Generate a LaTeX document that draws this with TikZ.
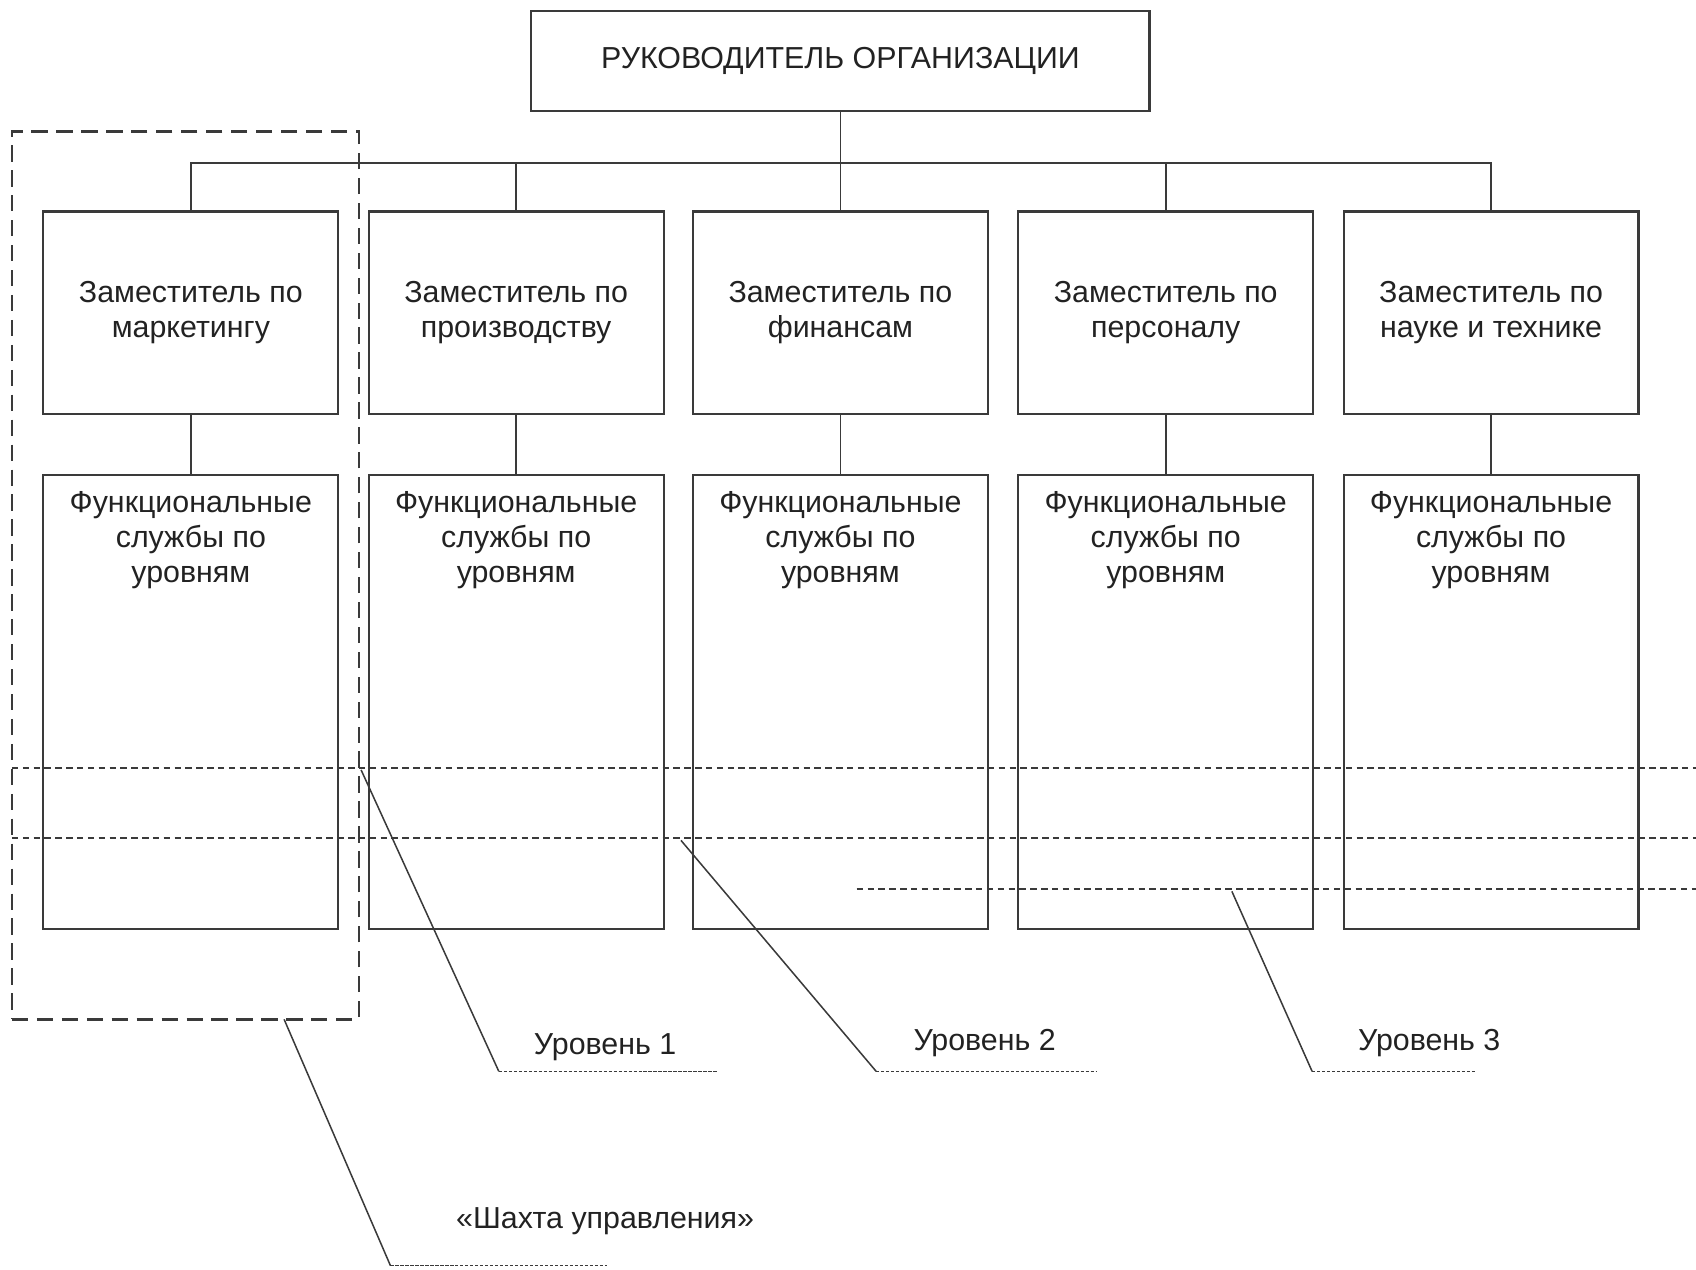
\documentclass[tikz,border=0pt]{standalone}
\usepackage{fontspec}
\setmainfont{Liberation Sans}
\definecolor{ln}{HTML}{3A3A3A}
\definecolor{txt}{HTML}{222222}
\begin{document}
\begin{tikzpicture}[x=0.5pt,y=-0.5pt,
  every node/.style={font=\fontsize{14}{16}\selectfont, text=txt},
  box/.style={draw=ln, line width=1pt, minimum width=136pt, inner sep=0},
  dep/.style={box, minimum height=93.5pt, align=center},
  fun/.style={box, minimum height=209.5pt},
  conn/.style={draw=ln, line width=0.8pt},
  level/.style={draw=ln, line width=0.9pt, dash pattern=on 3pt off 2pt},
  leader/.style={draw=ln, line width=0.7pt},
  under/.style={draw=ln, line width=0.8pt, dash pattern=on 1.5pt off 0.8pt},
  shaftbox/.style={draw=ln, line width=1.2pt, dash pattern=on 7.5pt off 4pt},
  funtext/.style={align=center, anchor=north, inner sep=0pt, yshift=-8pt}
]
\useasboundingbox (0,0) rectangle (1564,1171);

% head
\node[box, minimum width=285pt, minimum height=46pt] (top) at (775,56) {РУКОВОДИТЕЛЬ ОРГАНИЗАЦИИ};

% deputies and functional services
\foreach \i/\x/\t in {1/176/{Заместитель по\\маркетингу},
                      2/476/{Заместитель по\\производству},
                      3/775/{Заместитель по\\финансам},
                      4/1075/{Заместитель по\\персоналу},
                      5/1375/{Заместитель по\\науке и технике}}{
  \node[dep] (d\i) at (\x,288.5) {\t};
  \node[fun, label={[funtext]north:Функциональные\\службы по\\уровням}] (f\i) at (\x,647.5) {};
  \draw[conn] (d\i.south) -- (f\i.north);
}

% bus
\coordinate (bus) at (775,150);
\draw[conn] (top.south) -- (bus);
\draw[conn] (d1.north) -- (d1.north |- bus) -- (d5.north |- bus) -- (d5.north);
\foreach \i in {2,3,4}{
  \draw[conn] (d\i.north) -- (d\i.north |- bus);
}

% management shaft
\node[shaftbox, minimum width=160pt, minimum height=409.5pt, inner sep=0] (shaft) at (171,530.5) {};

% levels
\coordinate (l1a) at (11,708);  \coordinate (l1b) at (1564,708);
\coordinate (l2a) at (11,773);  \coordinate (l2b) at (1564,773);
\coordinate (l3a) at (790,820); \coordinate (l3b) at (1564,820);
\draw[level] (l1a) -- (l1b);
\draw[level] (l2a) -- (l2b);
\draw[level] (l3a) -- (l3b);

% leaders
\coordinate (p1) at (333,710);  \coordinate (k1) at (460,988);  \coordinate (e1) at (662,988);
\coordinate (p2) at (628,775);  \coordinate (k2) at (808,988);  \coordinate (e2) at (1012,988);
\coordinate (p3) at (1136,822); \coordinate (k3) at (1210,988); \coordinate (e3) at (1360,988);
\coordinate (p4) at (262,940);  \coordinate (k4) at (360,1167); \coordinate (e4) at (560,1167);
\draw[leader] (p1) -- (k1); \draw[under] (k1) -- (e1);
\draw[leader] (p2) -- (k2); \draw[under] (k2) -- (e2);
\draw[leader] (p3) -- (k3); \draw[under] (k3) -- (e3);
\draw[leader] (p4) -- (k4); \draw[under] (k4) -- (e4);

\node (t1) at (558,966) {Уровень 1};
\node (t2) at (908,962) {Уровень 2};
\node (t3) at (1318,962) {Уровень 3};
\node (t4) at (558,1126) {«Шахта управления»};
\end{tikzpicture}
\end{document}
